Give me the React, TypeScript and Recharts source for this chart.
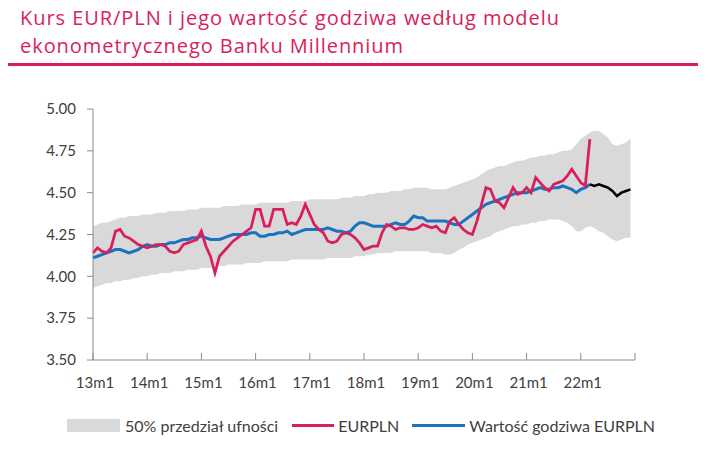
import React from "react";
import {
  ComposedChart,
  Area,
  Line,
  XAxis,
  YAxis,
} from "recharts";

// month index 0 = 13m1 (Jan 2013), monthly up to Dec 2022
const YEAR_LABELS = ["13m1", "14m1", "15m1", "16m1", "17m1", "18m1", "19m1", "20m1", "21m1", "22m1", ""];
const Y_TICKS = [3.5, 3.75, 4.0, 4.25, 4.5, 4.75, 5.0];

const BAND_LOW = [
  3.93, 3.94, 3.95, 3.96, 3.96, 3.97, 3.97, 3.98, 3.98, 3.99, 3.99, 4.0,
  4.0, 4.01, 4.01, 4.02, 4.02, 4.02, 4.03, 4.03, 4.03, 4.04, 4.04, 4.04,
  4.05, 4.05, 4.05, 4.06, 4.06, 4.06, 4.07, 4.07, 4.07, 4.07, 4.08, 4.08,
  4.08, 4.08, 4.09, 4.09, 4.09, 4.09, 4.09, 4.09, 4.1, 4.1, 4.1, 4.1,
  4.1, 4.1, 4.1, 4.1, 4.11, 4.11, 4.11, 4.11, 4.11, 4.11, 4.12, 4.12,
  4.12, 4.13, 4.13, 4.14, 4.14, 4.14, 4.14, 4.15, 4.15, 4.15, 4.15, 4.15,
  4.15, 4.15, 4.15, 4.14, 4.14, 4.14, 4.13, 4.13, 4.14, 4.16, 4.17, 4.19,
  4.2, 4.21, 4.22, 4.23, 4.24, 4.26, 4.27, 4.28, 4.29, 4.3, 4.3, 4.31,
  4.31, 4.32, 4.32, 4.33, 4.33, 4.34, 4.34, 4.34, 4.33, 4.32, 4.3, 4.27,
  4.27, 4.29, 4.3, 4.29, 4.27, 4.26, 4.24, 4.22, 4.21, 4.22, 4.23, 4.23,
];

const BAND_HIGH = [
  4.3, 4.31, 4.32, 4.32, 4.33, 4.34, 4.35, 4.35, 4.36, 4.36, 4.36, 4.37,
  4.37, 4.37, 4.38, 4.38, 4.38, 4.39, 4.39, 4.39, 4.39, 4.4, 4.4, 4.4,
  4.41, 4.41, 4.41, 4.41, 4.41, 4.42, 4.42, 4.42, 4.42, 4.43, 4.43, 4.43,
  4.43, 4.44, 4.44, 4.44, 4.44, 4.44, 4.44, 4.44, 4.45, 4.45, 4.45, 4.45,
  4.46, 4.46, 4.46, 4.46, 4.46, 4.46, 4.46, 4.47, 4.47, 4.47, 4.48, 4.48,
  4.48, 4.49, 4.49, 4.5, 4.5, 4.5, 4.51, 4.51, 4.51, 4.52, 4.52, 4.53,
  4.53, 4.53, 4.53, 4.52, 4.52, 4.52, 4.52, 4.53, 4.54, 4.55, 4.56, 4.57,
  4.58, 4.59, 4.61, 4.63, 4.64, 4.65, 4.66, 4.66, 4.67, 4.68, 4.69, 4.69,
  4.7, 4.71, 4.71, 4.72, 4.72, 4.73, 4.73, 4.74, 4.75, 4.75, 4.76, 4.79,
  4.82, 4.84, 4.86, 4.87, 4.87, 4.85, 4.83, 4.79, 4.78, 4.79, 4.8, 4.82,
];

// EURPLN, 13m1 .. 22m3
const EURPLN = [
  4.14, 4.17, 4.15, 4.14, 4.17, 4.27, 4.28, 4.24, 4.23, 4.21, 4.19, 4.18,
  4.17, 4.18, 4.19, 4.19, 4.18, 4.15, 4.14, 4.15, 4.19, 4.2, 4.21, 4.22,
  4.27, 4.18, 4.12, 4.02, 4.12, 4.15, 4.18, 4.21, 4.23, 4.25, 4.27, 4.29,
  4.4, 4.4, 4.3, 4.3, 4.4, 4.4, 4.4, 4.31, 4.32, 4.31, 4.36, 4.43,
  4.37, 4.31, 4.28, 4.26, 4.21, 4.2, 4.21, 4.25, 4.26, 4.25, 4.23, 4.2,
  4.16, 4.17, 4.18, 4.18, 4.26, 4.31, 4.3, 4.28, 4.29, 4.29, 4.28, 4.28,
  4.29, 4.31, 4.3, 4.29, 4.3, 4.27, 4.26, 4.33, 4.35, 4.31, 4.28, 4.26,
  4.25, 4.33, 4.43, 4.53, 4.52, 4.45, 4.44, 4.41, 4.47, 4.53, 4.49, 4.5,
  4.53, 4.5, 4.59, 4.56, 4.53, 4.51, 4.55, 4.56, 4.57, 4.6, 4.64, 4.6,
  4.56, 4.54, 4.82,
];

// fair value, model output up to 22m3, forecast after
const FAIR_VALUE = [
  4.11, 4.12, 4.13, 4.14, 4.15, 4.16, 4.16, 4.15, 4.14, 4.15, 4.16, 4.18,
  4.19, 4.18, 4.18, 4.19, 4.19, 4.2, 4.2, 4.21, 4.22, 4.22, 4.23, 4.23,
  4.24, 4.23, 4.22, 4.22, 4.22, 4.23, 4.24, 4.25, 4.25, 4.25, 4.25, 4.26,
  4.26, 4.24, 4.24, 4.25, 4.25, 4.26, 4.26, 4.27, 4.25, 4.26, 4.27, 4.28,
  4.28, 4.28, 4.28, 4.28, 4.29, 4.28, 4.27, 4.27, 4.26, 4.27, 4.3, 4.32,
  4.32, 4.31, 4.3, 4.3, 4.3, 4.3, 4.31, 4.32, 4.31, 4.31, 4.33, 4.36,
  4.35, 4.35, 4.33, 4.33, 4.33, 4.33, 4.33, 4.32, 4.31, 4.31, 4.33, 4.35,
  4.37, 4.39, 4.41, 4.43, 4.44, 4.45, 4.46, 4.47, 4.48, 4.49, 4.5, 4.5,
  4.5, 4.51, 4.52, 4.53, 4.52, 4.52, 4.53, 4.53, 4.54, 4.53, 4.52, 4.5,
  4.52, 4.53, 4.55, 4.54, 4.55, 4.54, 4.53, 4.51, 4.48, 4.5, 4.51, 4.52,
];
const FORECAST_FROM = 110;

const data = BAND_LOW.map((lo, i) => ({
  i,
  band: [lo, BAND_HIGH[i]],
  eurpln: i < EURPLN.length ? EURPLN[i] : null,
  fair: i <= FORECAST_FROM ? FAIR_VALUE[i] : null,
  forecast: i >= FORECAST_FROM ? FAIR_VALUE[i] : null,
}));

const PINK = "#D81E5B";
const BLUE = "#1B72BE";
const GREY_BAND = "#D9D9D9";
const AXIS = "#8C8C8C";
const TXT = "#404040";
const FONT = "Lato, 'Open Sans', sans-serif";

const XTick = (props: any) => {
  const { x, y, payload } = props;
  const label = YEAR_LABELS[Math.round(payload.value / 12)];
  return (
    <g>
      <line x1={x} y1={y} x2={x} y2={y - 7} stroke={AXIS} strokeWidth={1} />
      <text x={x + 2} y={y + 28} textAnchor="middle" fill={TXT} fontSize={15} fontFamily={FONT}>
        {label}
      </text>
    </g>
  );
};

export default function App() {
  return (
    <div style={{ position: "absolute", left: 0, top: 0, width: 712, height: 453, background: "#fff", overflow: "hidden" }}>
      <div
        style={{
          position: "absolute",
          left: 20,
          top: 4,
          color: PINK,
          fontFamily: "'Open Sans', sans-serif",
          fontSize: 20,
          lineHeight: "28px",
          letterSpacing: 0.95,
          whiteSpace: "nowrap",
        }}
      >
        <div>Kurs EUR/PLN i jego wartość godziwa według modelu</div>
        <div>ekonometrycznego Banku Millennium</div>
      </div>
      <div style={{ position: "absolute", left: 8, top: 63, width: 690, height: 3, background: PINK }} />

      <div style={{ position: "absolute", left: 0, top: 0 }}>
        <ComposedChart
          width={712}
          height={453}
          data={data}
          margin={{ top: 109, right: 77, bottom: 63, left: 43 }}
        >
          <XAxis
            dataKey="i"
            type="number"
            domain={[0, 120]}
            ticks={[0, 12, 24, 36, 48, 60, 72, 84, 96, 108, 120]}
            interval={0}
            height={30}
            tickSize={0}
            tickMargin={0}
            tickLine={false}
            axisLine={{ stroke: AXIS }}
            tick={<XTick />}
          />
          <YAxis
            domain={[3.5, 5]}
            ticks={Y_TICKS}
            interval={0}
            width={50}
            tickSize={6}
            tickMargin={11}
            axisLine={{ stroke: AXIS }}
            tickLine={{ stroke: AXIS }}
            tickFormatter={(v: number) => v.toFixed(2)}
            tick={{ fill: TXT, fontSize: 15, fontFamily: FONT }}
          />
          <Area
            type="linear"
            dataKey="band"
            fill={GREY_BAND}
            fillOpacity={1}
            stroke="none"
            isAnimationActive={false}
          />
          <Line type="linear" dataKey="fair" stroke={BLUE} strokeWidth={3} dot={false} isAnimationActive={false} />
          <Line type="linear" dataKey="forecast" stroke="#000" strokeWidth={2.5} dot={false} isAnimationActive={false} />
          <Line type="linear" dataKey="eurpln" stroke={PINK} strokeWidth={2.75} dot={false} isAnimationActive={false} />
        </ComposedChart>
      </div>

      <div
        style={{
          position: "absolute",
          left: 0,
          top: 414,
          height: 22,
          display: "flex",
          alignItems: "center",
          fontFamily: FONT,
          fontSize: 16,
          color: TXT,
          whiteSpace: "nowrap",
        }}
      >
        <span style={{ width: 53, height: 13, background: GREY_BAND, marginLeft: 67, marginRight: 5 }} />
        <span>50% przedział ufności</span>
        <span style={{ width: 42, height: 3, background: PINK, marginLeft: 14, marginRight: 4 }} />
        <span>EURPLN</span>
        <span style={{ width: 53, height: 3, background: BLUE, marginLeft: 13, marginRight: 4 }} />
        <span>Wartość godziwa EURPLN</span>
      </div>
    </div>
  );
}
